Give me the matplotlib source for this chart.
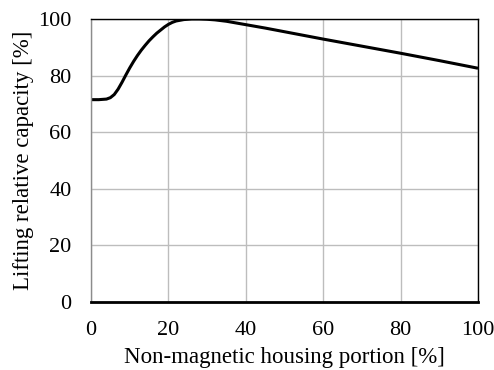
import matplotlib
matplotlib.use("Agg")
import matplotlib.pyplot as plt
import numpy as np

x_vals = [0, 2, 4, 5, 6, 7, 8, 9, 10, 11, 12, 13, 14, 15, 16, 17, 18, 19, 20, 21, 22, 24, 26, 28, 30, 32, 35, 40, 45, 50, 60, 70, 80, 90, 100]
y_vals = [71.5, 71.5, 71.7, 72.2, 73.3, 75.2, 77.6, 80.2, 82.7, 85.0, 87.1, 89.0, 90.7, 92.3, 93.7, 95.0, 96.1, 97.2, 98.1, 98.8, 99.3, 99.8, 100.0, 100.0, 99.9, 99.7, 99.2, 98.0, 96.8, 95.5, 92.9, 90.4, 87.9, 85.3, 82.6]
x_ticks = [0, 20, 40, 60, 80, 100]
y_ticks = [0, 20, 40, 60, 80, 100]

plt.rcParams['font.family'] = ['Liberation Serif', 'DejaVu Serif']
fig = plt.figure(figsize=(4.94, 3.70), dpi=100)
ax = fig.add_axes([91/494, 1-302/370, (478-91)/494, (302-19)/370])
ax.plot(x_vals, y_vals, color='black', lw=2.2, solid_joinstyle='round', solid_capstyle='butt')
ax.set_xlim(0, 100)
ax.set_ylim(0, 100)
ax.set_xticks(x_ticks)
ax.set_yticks(y_ticks)
ax.grid(True, color='#BDBDBD', lw=1)
ax.set_axisbelow(True)
ax.tick_params(length=0, labelsize=16)
ax.tick_params(axis='x', pad=14)
ax.tick_params(axis='y', pad=14)
for s in ['top', 'right']:
    ax.spines[s].set_color('black')
    ax.spines[s].set_linewidth(1.0)
ax.spines['left'].set_color('#8C8C8C')
ax.spines['left'].set_linewidth(1.0)
ax.spines['bottom'].set_color('black')
ax.spines['bottom'].set_linewidth(2.0)
ax.set_xlabel('Non-magnetic housing portion [%]', fontsize=16.5, labelpad=5)
ax.set_ylabel('Lifting relative capacity [%]', fontsize=16.5, labelpad=3)
fig.savefig('out.png', dpi=100)
